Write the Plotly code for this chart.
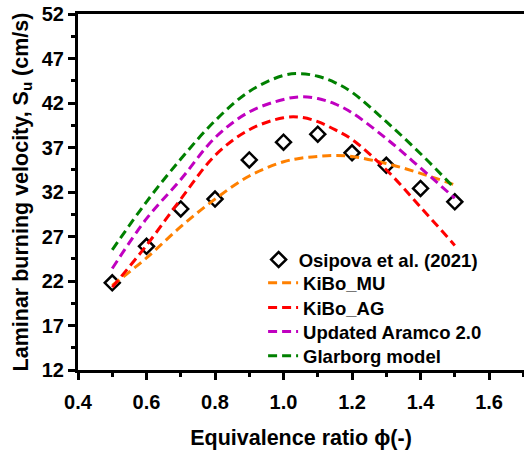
import plotly.graph_objects as go

phi_exp = [0.5, 0.6, 0.7, 0.8, 0.9, 1.0, 1.1, 1.2, 1.3, 1.4, 1.5]
su_exp = [21.8, 25.9, 30.1, 31.2, 35.6, 37.6, 38.5, 36.4, 35.0, 32.4, 30.9]

phi_mod = [0.5, 0.6, 0.7, 0.8, 0.9, 1.0, 1.05, 1.1, 1.15, 1.2, 1.3, 1.4, 1.5]
su_kibo_mu = [21.5, 24.6, 28.1, 31.2, 33.8, 35.4, 35.8, 36.0, 36.1, 36.0, 35.2, 34.1, 32.8]
su_kibo_ag = [21.3, 26.0, 31.2, 36.1, 39.0, 40.35, 40.4, 39.9, 39.0, 37.9, 34.5, 30.3, 26.0]
su_aramco = [23.4, 29.0, 33.4, 38.1, 41.0, 42.4, 42.7, 42.5, 41.9, 40.9, 38.0, 34.7, 31.3]
su_glarborg = [25.5, 30.9, 35.7, 40.0, 43.3, 45.1, 45.3, 45.0, 44.3, 43.2, 39.9, 36.3, 32.4]

model_names = ["KiBo_MU", "KiBo_AG", "Updated Aramco 2.0", "Glarborg model"]
model_values = [su_kibo_mu, su_kibo_ag, su_aramco, su_glarborg]
model_colors = ["#FF8000", "#FF0000", "#C000C0", "#008000"]

x_ticks = [0.4, 0.6, 0.8, 1.0, 1.2, 1.4, 1.6]
y_ticks = [12, 17, 22, 27, 32, 37, 42, 47, 52]

FONT = "Arial, Liberation Sans, sans-serif"
LEG_FONT = dict(size=18.5, family=FONT, color="black", weight="bold")

fig = go.Figure()
fig.add_trace(go.Scatter(
    x=phi_exp, y=su_exp, mode="markers", name="Osipova et al. (2021)", legend="legend",
    showlegend=True,
    marker=dict(symbol="diamond-open", size=11.5, color="black", line=dict(width=2.5, color="black")),
))
legend_ids = ["legend2", "legend3", "legend4", "legend5"]
for name, vals, col, lg in zip(model_names, model_values, model_colors, legend_ids):
    fig.add_trace(go.Scatter(
        x=phi_mod, y=vals, mode="lines", name=name, legend=lg, showlegend=True,
        line=dict(color=col, width=3, dash="9px,5px", shape="spline", smoothing=1.0),
    ))

def leg(xp, yp):
    return dict(x=xp, y=yp, xanchor="left", yanchor="middle", bgcolor="rgba(0,0,0,0)",
                font=LEG_FONT, itemwidth=30, borderwidth=0, visible=True)

fig.update_layout(
    width=524, height=454,
    showlegend=True,
    margin=dict(l=78, r=0, t=14, b=84),
    plot_bgcolor="white", paper_bgcolor="white",
    font=dict(family=FONT, color="black"),
    legend=leg(0.405, 0.309),
    legend2=leg(0.415, 0.244),
    legend3=leg(0.415, 0.174),
    legend4=leg(0.415, 0.107),
    legend5=leg(0.415, 0.039),
    xaxis=dict(
        range=[0.4, 1.702], tickvals=x_ticks, ticktext=[f"{v:.1f}" for v in x_ticks],
        showgrid=False, zeroline=False, showline=True, linewidth=3, linecolor="black",
        mirror=True, ticks="outside", ticklen=7, tickwidth=2.5, tickcolor="black",
        minor=dict(dtick=0.1, tick0=0.4, ticks="outside", ticklen=4, tickwidth=2.5, tickcolor="black"),
        tickfont=dict(size=20, family=FONT, color="black", weight="bold"),
        ticklabelstandoff=5,
        title=dict(text="Equivalence ratio \u03d5(-)", standoff=18,
                   font=dict(size=21.5, family=FONT, color="black", weight="bold")),
        automargin=False,
    ),
    yaxis=dict(
        range=[12, 52], tickvals=y_ticks,
        showgrid=False, zeroline=False, showline=True, linewidth=3, linecolor="black",
        ticks="outside", ticklen=7, tickwidth=2.5, tickcolor="black",
        minor=dict(dtick=2.5, tick0=12, ticks="outside", ticklen=4, tickwidth=2.5, tickcolor="black"),
        tickfont=dict(size=20, family=FONT, color="black", weight="bold"),
        title=dict(text="Laminar burning velocity, S<sub>u</sub> (cm/s)", standoff=8,
                   font=dict(size=21.5, family=FONT, color="black", weight="bold")),
        automargin=False,
    ),
)

fig.write_html("out.html")
